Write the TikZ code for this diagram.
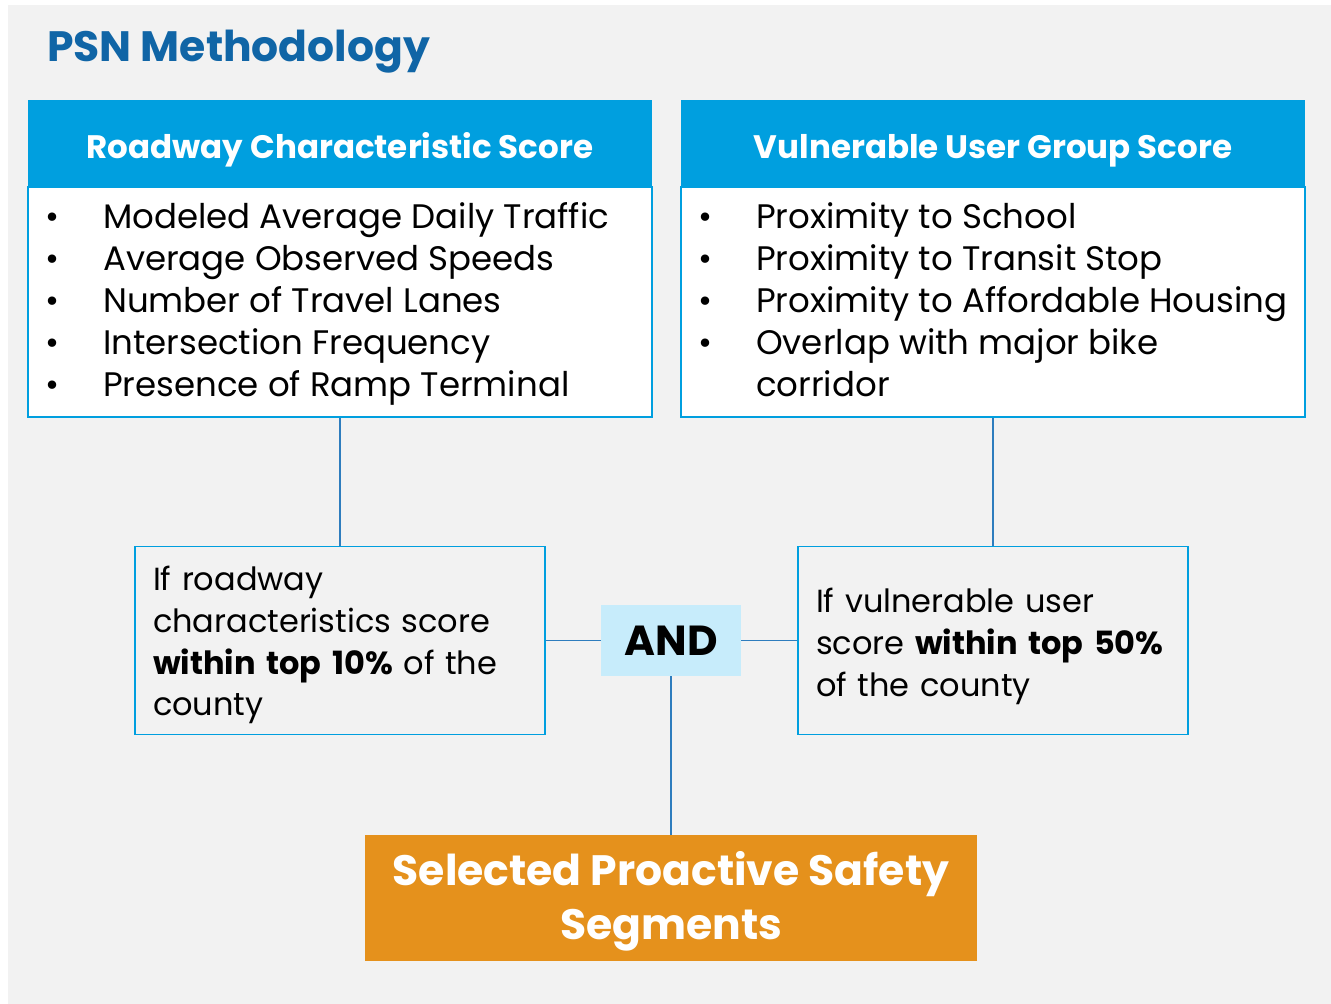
\documentclass[tikz,border=0pt]{standalone}
\usepackage{fontspec}
\setmainfont{Poppins}
\usetikzlibrary{positioning}
\tikzset{
  headbox/.style={rectangle, fill=headblue, text=white, inner sep=0pt, minimum width=624pt, minimum height=87pt, text height=29pt, text depth=0pt, font=\bfseries\fontsize{32.5}{38}\selectfont},
  bodybox/.style={rectangle, draw=headblue, line width=2.4pt, fill=white, inner sep=0pt, minimum width=624pt, minimum height=230pt},
  listtext/.style={inner sep=0pt, anchor=base west, font=\fontsize{34}{42}\selectfont},
  condbox/.style={rectangle, draw=headblue, line width=1.6pt, fill=bgray, inner sep=0pt, minimum height=188pt, align=left, font=\fontsize{32}{41.7}\selectfont},
  andbox/.style={rectangle, fill=andblue, inner sep=0pt, minimum width=140pt, minimum height=71pt, font=\bfseries\fontsize{42}{50}\selectfont},
  segbox/.style={rectangle, fill=segorange, text=white, inner sep=0pt, minimum width=612pt, minimum height=126pt, align=center, font=\bfseries\fontsize{42.5}{54}\selectfont},
  link/.style={draw=linkblue, line width=1.3pt}
}
% taller first line, pushes the text block down a little
\newcommand{\lowerby}[1]{\rule{0pt}{#1}}
\begin{document}
\begin{tikzpicture}[x=1pt, y=-1pt]
        \definecolor{bgray}{RGB}{242,242,242}
        \definecolor{headblue}{RGB}{0,159,223}
        \definecolor{titleblue}{RGB}{16,101,166}
        \definecolor{linkblue}{RGB}{46,125,190}
        \definecolor{andblue}{RGB}{199,236,251}
        \definecolor{segorange}{RGB}{229,145,28}
        \useasboundingbox (0,0) rectangle (1331,1004);
        \fill[bgray] (8,5) rectangle (1331,1004);

        \node (title) at (47,61) [anchor=base west, inner sep=0pt, text=titleblue, font=\bfseries\fontsize{42.5}{50}\selectfont] {PSN Methodology};

        % roadway side
        \node (roadhead) at (340,143.5) [headbox] {Roadway Characteristic Score};
        \node (roadbody) at (340,302) [bodybox] {};
        \node (roadlist) at (45,228) [listtext] {\begin{tabular}[t]{@{}p{58pt}@{}l@{}}
          \textbullet & Modeled Average Daily Traffic\\
          \textbullet & Average Observed Speeds\\
          \textbullet & Number of Travel Lanes\\
          \textbullet & Intersection Frequency\\
          \textbullet & Presence of Ramp Terminal
        \end{tabular}};

        % user side
        \node (userhead) at (993,143.5) [headbox] {Vulnerable User Group Score};
        \node (userbody) at (993,302) [bodybox] {};
        \node (userlist) at (698,228) [listtext] {\begin{tabular}[t]{@{}p{58pt}@{}l@{}}
          \textbullet & Proximity to School\\
          \textbullet & Proximity to Transit Stop\\
          \textbullet & Proximity to Affordable Housing\\
          \textbullet & Overlap with major bike\\
                      & corridor
        \end{tabular}};

        % conditions
        \node (roadcond) at (340,640.5) [condbox, minimum width=410pt, text width=374pt] {\lowerby{34pt}If roadway\\characteristics score\\\textbf{within top 10\%} of the\\county};
        \node (usercond) at (993,640.5) [condbox, minimum width=390pt, text width=354pt] {\lowerby{36pt}If vulnerable user\\score \textbf{within top 50\%}\\of the county};
        \node (and) at (671,640.5) [andbox] {AND};
        \node (seg) at (671,898) [segbox] {\lowerby{40pt}Selected Proactive Safety\\Segments};

        \draw[link] (roadbody.south) -- (roadcond.north);
        \draw[link] (userbody.south) -- (usercond.north);
        \draw[link] (roadcond.east) -- (and.west);
        \draw[link] (and.east) -- (usercond.west);
        \draw[link] (and.south) -- (seg.north);
\end{tikzpicture}
\end{document}
